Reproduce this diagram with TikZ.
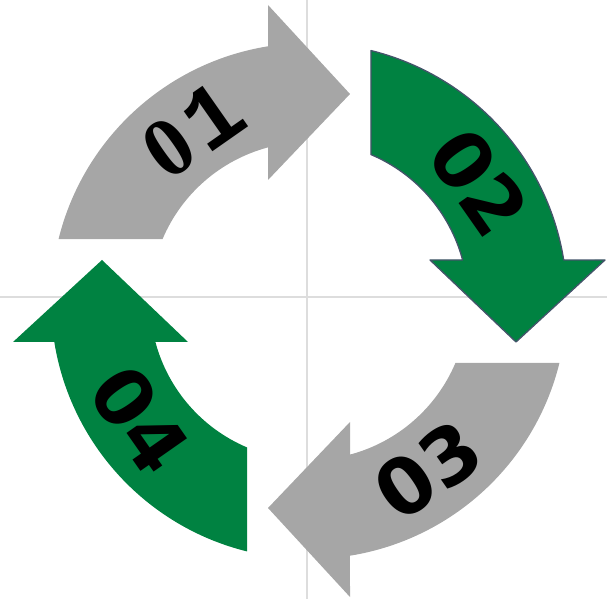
\documentclass[tikz,border=0pt]{standalone}
\usepackage{fontspec}
\newfontfamily\monobold{Liberation Mono}
\newfontfamily\serifbold{Liberation Serif}
\newfontfamily\sansbold{DejaVu Sans}
\newcommand{\courzero}{\makebox[0.6em][c]{\serifbold\bfseries\fontsize{84}{84}\selectfont 0}}
\definecolor{arrgray}{HTML}{A6A6A6}
\definecolor{arrgreen}{HTML}{008241}
\definecolor{arredge}{HTML}{44546A}
\definecolor{guide}{HTML}{DDDDDD}
\tikzset{
  arrowshape/.pic={
    \path[pic actions] (166.1:258) arc[start angle=166.1, end angle=99.14, radius=258]
      -- (-41,296) -- (41,207) -- (-41,121) -- (-41,153.6)
      arc[start angle=104.94, end angle=157.05, radius=159] -- cycle;
  },
  graystyle/.style={fill=arrgray, draw=none},
  greenstyle/.style={fill=arrgreen, draw=none},
  greenedge/.style={fill=arrgreen, draw=arredge, line width=1.3pt, line join=round},
  numA/.style={font=\monobold\bfseries\fontsize{90}{90}\selectfont, inner sep=0pt},
  numB/.style={font=\sansbold\bfseries\fontsize{78}{78}\selectfont, inner sep=0pt},
  guideline/.style={draw=guide, line width=1.2pt}
}
\begin{document}
\begin{tikzpicture}[x=1pt,y=1pt]
\useasboundingbox (0,0) rectangle (607,599);
\coordinate (vtop) at (307,599);
\coordinate (vbot) at (307,0);
\coordinate (hl) at (0,302);
\coordinate (hr) at (607,302);
\draw[guideline] (vtop) -- (vbot);
\draw[guideline] (hl) -- (hr);
\begin{scope}[shift={(309,298)}]
  \pic[graystyle] at (0,0) {arrowshape};
  \pic[greenedge, rotate=-90] at (0,0) {arrowshape};
  \pic[graystyle, rotate=-180] at (0,0) {arrowshape};
  \pic[greenstyle, rotate=-270] at (0,0) {arrowshape};
  \node[numA, rotate=35] (t1) at (125:207) {\courzero1};
  \node[numB, rotate=-55] (t2) at (35:207) {02};
  \node[numB, rotate=35] (t3) at (-55:207) {03};
  \node[numB, rotate=-55] (t4) at (-145:207) {04};
\end{scope}
\end{tikzpicture}
\end{document}
